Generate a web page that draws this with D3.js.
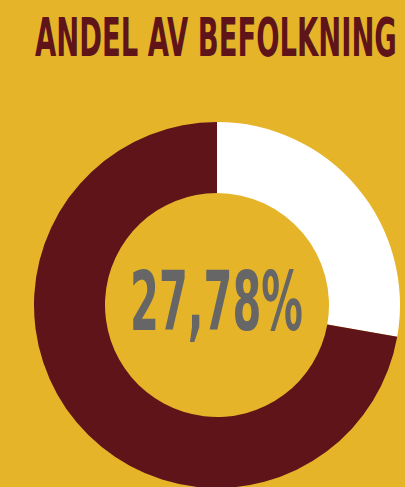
<!DOCTYPE html>
<html>
    <head>
        <meta charset="utf-8">
        <title>Andel av befolkning</title>
        <script type="text/javascript" src="https://cdn.jsdelivr.net/npm/d3@7"></script>
        <style type="text/css">
            body {
                margin: 0;
                background: #E5B429;
            }
            svg {
                display: block;
            }
        </style>
    </head>
    <body>
        <script type="text/javascript">
            // Width and height
            var w = 405;
            var h = 487;

            // Data
            var titleText = "ANDEL AV BEFOLKNING";
            var categories = ["Andel", "Resten"];
            var values = [27.78, 72.22];
            var centerLabel = "27,78%";

            var colors = d3.scaleOrdinal()
                            .domain(categories)
                            .range(["#ffffff", "#5E1419"]);

            // Create SVG element
            var svg = d3.select("body")
                        .append("svg")
                        .attr("width", w)
                        .attr("height", h);

            svg.append("rect")
                .attr("width", w)
                .attr("height", h)
                .attr("fill", "#E5B429");

            // squeeze a text horizontally so it fills the given width
            function fitText(sel, x, y, width) {
                var natural = sel.node().getComputedTextLength();
                sel.attr("transform", "translate(" + x + "," + y + ") scale(" + (width / natural) + ",1)");
            }

            // Title
            var title = svg.append("text")
                .style("font-family", "'DejaVu Sans', sans-serif")
                .style("font-weight", "bold")
                .style("font-size", "54px")
                .attr("fill", "#5E1419")
                .text(titleText);
            fitText(title, 35, 55.5, 362);

            // Donut
            var cx = 217, cy = 305;
            var outerR = 183, innerR = 112;

            var pie = d3.pie().sort(null);
            var arc = d3.arc().innerRadius(innerR).outerRadius(outerR);

            var g = svg.append("g")
                .attr("transform", "translate(" + cx + "," + cy + ")");

            g.selectAll("path")
                .data(pie(values))
                .enter()
                .append("path")
                .attr("d", arc)
                .attr("fill", function(d, i){
                    return colors(categories[i]);
                });

            // Center label
            var label = g.append("text")
                .style("font-family", "'DejaVu Sans', sans-serif")
                .style("font-weight", "bold")
                .style("font-size", "81px")
                .attr("fill", "#666666")
                .text(centerLabel);
            fitText(label, -87, 25, 173);
        </script>
    </body>
</html>
